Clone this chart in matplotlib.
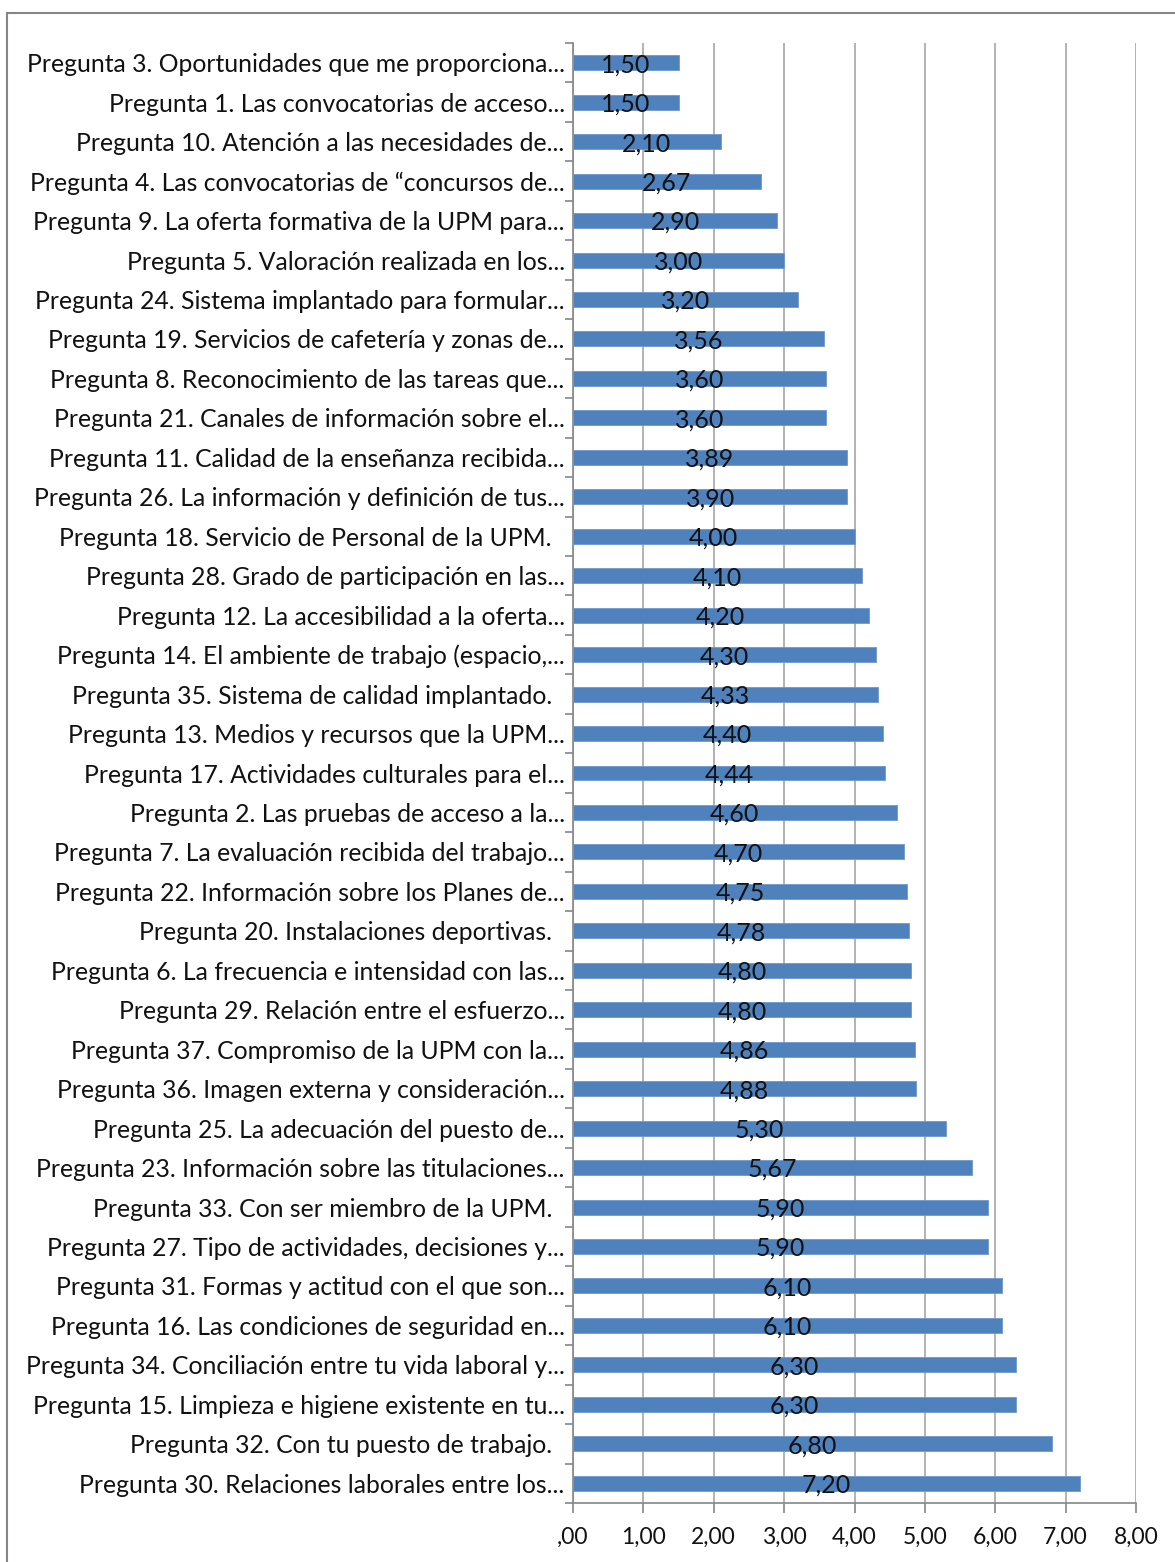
import matplotlib
matplotlib.use("Agg")
import matplotlib.pyplot as plt
from matplotlib.patches import Rectangle

labels = [
    "Pregunta 3. Oportunidades que me proporciona...",
    "Pregunta 1. Las convocatorias de acceso...",
    "Pregunta 10. Atención a las necesidades de...",
    "Pregunta 4. Las convocatorias de “concursos de...",
    "Pregunta 9. La oferta formativa de la UPM para...",
    "Pregunta 5. Valoración realizada en los...",
    "Pregunta 24. Sistema implantado para formular...",
    "Pregunta 19. Servicios de cafetería y zonas de...",
    "Pregunta 8. Reconocimiento de las tareas que...",
    "Pregunta 21. Canales de información sobre el...",
    "Pregunta 11. Calidad de la enseñanza recibida...",
    "Pregunta 26. La información y definición de tus...",
    "Pregunta 18. Servicio de Personal de la UPM.  ",
    "Pregunta 28. Grado de participación en las...",
    "Pregunta 12. La accesibilidad a la oferta...",
    "Pregunta 14. El ambiente de trabajo (espacio,...",
    "Pregunta 35. Sistema de calidad implantado.  ",
    "Pregunta 13. Medios y recursos que la UPM...",
    "Pregunta 17. Actividades culturales para el...",
    "Pregunta 2. Las pruebas de acceso a la...",
    "Pregunta 7. La evaluación recibida del trabajo...",
    "Pregunta 22. Información sobre los Planes de...",
    "Pregunta 20. Instalaciones deportivas.  ",
    "Pregunta 6. La frecuencia e intensidad con las...",
    "Pregunta 29. Relación entre el esfuerzo...",
    "Pregunta 37. Compromiso de la UPM con la...",
    "Pregunta 36. Imagen externa y consideración...",
    "Pregunta 25. La adecuación del puesto de...",
    "Pregunta 23. Información sobre las titulaciones...",
    "Pregunta 33. Con ser miembro de la UPM.  ",
    "Pregunta 27. Tipo de actividades, decisiones y...",
    "Pregunta 31. Formas y actitud con el que son...",
    "Pregunta 16. Las condiciones de seguridad en...",
    "Pregunta 34. Conciliación entre tu vida laboral y...",
    "Pregunta 15. Limpieza e higiene existente en tu...",
    "Pregunta 32. Con tu puesto de trabajo.  ",
    "Pregunta 30. Relaciones laborales entre los...",
]
values = [1.50, 1.50, 2.10, 2.67, 2.90, 3.00, 3.20, 3.56, 3.60, 3.60,
          3.89, 3.90, 4.00, 4.10, 4.20, 4.30, 4.33, 4.40, 4.44, 4.60,
          4.70, 4.75, 4.78, 4.80, 4.80, 4.86, 4.88, 5.30, 5.67, 5.90,
          5.90, 6.10, 6.10, 6.30, 6.30, 6.80, 7.20]
xticks = [0, 1, 2, 3, 4, 5, 6, 7, 8]
xticklabels = [",00", "1,00", "2,00", "3,00", "4,00", "5,00", "6,00", "7,00", "8,00"]

plt.rcParams['font.family'] = ['Lato', 'DejaVu Sans']

W, H = 1175, 1562
fig = plt.figure(figsize=(W / 100, H / 100), dpi=100)
fig.patch.set_facecolor("white")

# outer frame (right and bottom edges lie outside the image)
fig.add_artist(Rectangle((7 / W, -0.2), 1.2, 1.2 - 13 / H, transform=fig.transFigure,
                         fill=False, edgecolor="#868686", linewidth=1.5))

left, right = 573, 1136
top, bottom = 43, 1503
ax = fig.add_axes([left / W, 1 - bottom / H, (right - left) / W, (bottom - top) / H])

n = len(values)
pos = list(range(n))
ax.barh(pos, values, height=0.38, color="#4F81BD", edgecolor="#6F98CF",
        linewidth=0.6, zorder=3)
ax.set_ylim(n - 0.5, -0.5)
ax.set_xlim(0, 8)

for p, v in zip(pos, values):
    ax.text(v / 2, p + 0.05, f"{v:.2f}".replace(".", ","), ha="center", va="center",
            fontsize=18, color="#111111", zorder=4)

ax.set_xticks(xticks)
ax.set_xticklabels(xticklabels, fontsize=16.5, color="#111111")
ax.set_yticks(pos)
ax.set_yticklabels(labels, fontsize=17.8, color="#111111")
ax.set_yticks([p + 0.5 for p in [-1] + pos], minor=True)
ax.tick_params(axis="y", which="major", length=0, pad=6)
ax.tick_params(axis="y", which="minor", length=6, color="#868686", width=1.2)
ax.tick_params(axis="x", length=7, color="#868686", width=1.2, pad=10)

ax.grid(axis="x", color="#a6a6a6", linewidth=1.2, zorder=0)
for s in ["top", "right"]:
    ax.spines[s].set_visible(False)
for s in ["left", "bottom"]:
    ax.spines[s].set_color("#868686")
    ax.spines[s].set_linewidth(1.2)

fig.savefig("out.png", dpi=100, facecolor="white")
